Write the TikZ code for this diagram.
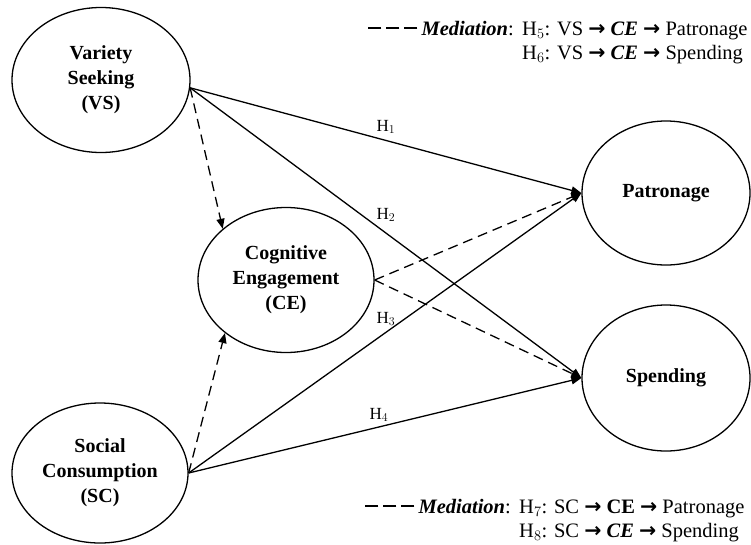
\documentclass[tikz,border=0pt]{standalone}
\usepackage{fontspec}
\setmainfont{Liberation Serif}
\newfontfamily\arrowfont{DejaVu Sans}
\usetikzlibrary{shapes.geometric,arrows.meta}
\newcommand{\legarr}{{\arrowfont\bfseries →}}
\tikzset{
  construct/.style={ellipse,draw,line width=1.3pt,inner sep=0pt,align=center,
    font=\fontsize{20}{25}\selectfont\bfseries},
  effect/.style={line width=1.3pt,-{Triangle[length=10pt,width=8pt]}},
  mediated/.style={effect,dash pattern=on 10pt off 6pt},
  hyp/.style={font=\fontsize{17}{20}\selectfont},
  legend/.style={font=\fontsize{20.5}{24}\selectfont,inner sep=0pt},
  legdash/.style={line width=1.3pt,dash pattern=on 13pt off 5pt}
}
\begin{document}
\begin{tikzpicture}[x=1pt,y=-1pt]
\useasboundingbox (0,0) rectangle (751,544);
\node[construct,minimum width=178pt,minimum height=145pt] (vs) at (101,80) {Variety\\Seeking\\(VS)};
\node[construct,minimum width=176pt,minimum height=145pt] (ce) at (286,280) {Cognitive\\Engagement\\(CE)};
\node[construct,minimum width=176pt,minimum height=140pt] (sc) at (100,473) {Social\\Consumption\\(SC)};
\node[construct,minimum width=168pt,minimum height=144pt] (pat) at (666,193) {Patronage};
\node[construct,minimum width=168pt,minimum height=146pt] (spe) at (666,378) {Spending};

\draw[effect] (vs.-5) -- (pat.west);
\draw[effect] (vs.-5) -- (spe.west);
\draw[effect] (sc.east) -- (pat.west);
\draw[effect] (sc.east) -- (spe.west);
\draw[mediated] (vs.-5) -- (ce.141);
\draw[mediated] (sc.east) -- (ce.221);
\draw[mediated] (ce.east) -- (pat.west);
\draw[mediated] (ce.east) -- (spe.west);

\node[hyp] (h1) at (386,127) {H$_1$};
\node[hyp] (h2) at (386,215) {H$_2$};
\node[hyp] (h3) at (386,319) {H$_3$};
\node[hyp] (h4) at (379,415) {H$_4$};

\node[legend,anchor=base west] (h5) at (522,35) {H$_5$: VS \legarr{} \textbf{\textit{CE}} \legarr{} Patronage};
\node[legend,anchor=base west] (h6) at (522,59) {H$_6$: VS \legarr{} \textbf{\textit{CE}} \legarr{} Spending};
\node[legend,anchor=base east] (topmed) at ([xshift=-8pt]h5.base west) {\textbf{\textit{Mediation}}:};
\coordinate (topdash) at ([xshift=-4pt,yshift=7pt]topmed.base west);
\draw[legdash] (topdash) -- ++(-49,0);

\node[legend,anchor=base west] (h7) at (519,513) {H$_7$: SC \legarr{} \textbf{CE} \legarr{} Patronage};
\node[legend,anchor=base west] (h8) at (519,537) {H$_8$: SC \legarr{} \textbf{\textit{CE}} \legarr{} Spending};
\node[legend,anchor=base east] (botmed) at ([xshift=-8pt]h7.base west) {\textbf{\textit{Mediation}}:};
\coordinate (botdash) at ([xshift=-4pt,yshift=7pt]botmed.base west);
\draw[legdash] (botdash) -- ++(-49,0);
\end{tikzpicture}
\end{document}
